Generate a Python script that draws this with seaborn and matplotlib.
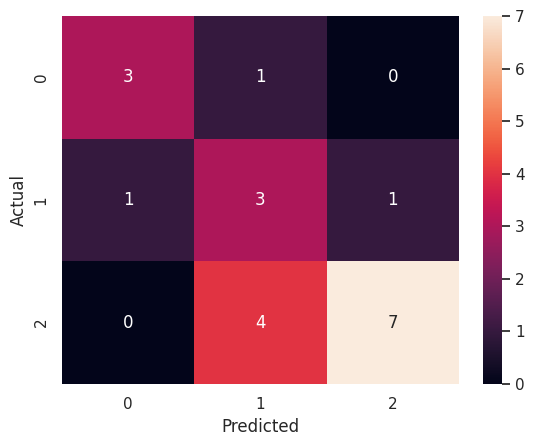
import matplotlib
matplotlib.use("Agg")
import matplotlib.pyplot as plt
import seaborn as sns
import numpy as np
import pandas as pd

sns.set_theme()

labels = [0, 1, 2]
row0 = [3, 1, 0]
row1 = [1, 3, 1]
row2 = [0, 4, 7]

cm = pd.DataFrame([row0, row1, row2], index=labels, columns=labels)

W, H = 534, 447
fig = plt.figure(figsize=(W / 100, H / 100), dpi=100)
ax = fig.add_axes([62 / W, (H - 384) / H, 397 / W, 368 / H])
cax = fig.add_axes([483 / W, (H - 384) / H, 19 / W, 368 / H])

sns.heatmap(cm, annot=True, fmt="d", ax=ax, cbar_ax=cax)
ax.set_xlabel("Predicted")
ax.set_ylabel("Actual")

fig.savefig("out.png", dpi=100)
